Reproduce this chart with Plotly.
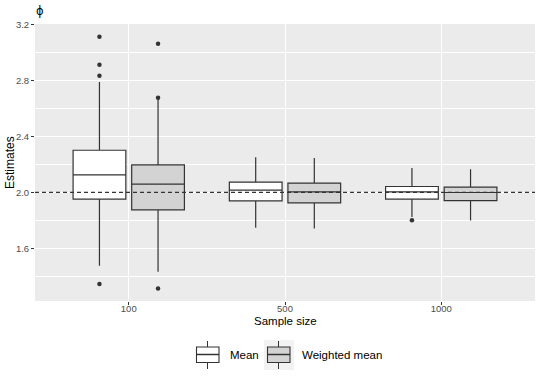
import plotly.graph_objects as go

sizes = ["100", "500", "1000"]

mean_lo = [1.475, 1.746, 1.823]
mean_q1 = [1.951, 1.939, 1.951]
mean_med = [2.125, 2.016, 2.004]
mean_q3 = [2.301, 2.073, 2.042]
mean_hi = [2.790, 2.251, 2.175]
mean_out_x = ["100", "100", "100", "100", "1000"]
mean_out_y = [3.113, 2.913, 2.834, 1.344, 1.801]

wmean_lo = [1.432, 1.741, 1.799]
wmean_q1 = [1.875, 1.925, 1.941]
wmean_med = [2.059, 2.004, 1.999]
wmean_q3 = [2.196, 2.066, 2.037]
wmean_hi = [2.672, 2.246, 2.166]
wmean_out_x = ["100", "100", "100"]
wmean_out_y = [3.063, 2.677, 1.313]

series_names = ["Mean", "Weighted mean"]
series_fills = ["#FFFFFF", "#D3D3D3"]

true_value = 2.0
y_ticks = [1.6, 2.0, 2.4, 2.8, 3.2]
y_tick_labels = ["1.6", "2.0", "2.4", "2.8", "3.2"]
y_minor = [1.4, 1.8, 2.2, 2.6, 3.0]

FONT = "Liberation Sans, Arial, sans-serif"
LINE = "#333333"
W, H = 540, 378
ML, MR, MT, MB = 35, 5, 24, 77
PW, PH = W - ML - MR, H - MT - MB


def px_x(px):
    return (px - ML) / PW


def px_y(py):
    return (H - MB - py) / PH


fig = go.Figure()
stats = [
    (mean_lo, mean_q1, mean_med, mean_q3, mean_hi),
    (wmean_lo, wmean_q1, wmean_med, wmean_q3, wmean_hi),
]
groups = ["m", "w"]
for name, grp, (lo, q1, med, q3, hi), fill in zip(series_names, groups, stats, series_fills):
    fig.add_trace(go.Box(
        name=name, x=sizes, lowerfence=lo, q1=q1, median=med, q3=q3, upperfence=hi,
        fillcolor=fill, line=dict(color=LINE, width=1.2), whiskerwidth=0,
        offsetgroup=grp, boxpoints=False, hoverinfo="y", showlegend=False,
    ))

for grp, ox, oy in [("m", mean_out_x, mean_out_y), ("w", wmean_out_x, wmean_out_y)]:
    fig.add_trace(go.Scatter(
        x=ox, y=oy, mode="markers", offsetgroup=grp, showlegend=False,
        marker=dict(color=LINE, size=4.5),
    ))

fig.add_hline(y=true_value, line=dict(color=LINE, width=1.1, dash="4px,3px"), layer="above")

# manual ggplot-style legend keys (layout decoration, paper coords)
shapes = []
annotations = []
key_lefts = [193, 264]
text_lefts = [228, 300]
for kl, tl, name, fill in zip(key_lefts, text_lefts, series_names, series_fills):
    cx = kl + 14.5
    shapes.append(dict(type="rect", xref="paper", yref="paper", x0=px_x(kl), x1=px_x(kl + 30),
                       y0=px_y(370), y1=px_y(340), fillcolor="#F2F2F2", line=dict(width=0), layer="above"))
    shapes.append(dict(type="line", xref="paper", yref="paper", x0=px_x(cx), x1=px_x(cx),
                       y0=px_y(341), y1=px_y(369), line=dict(color=LINE, width=1), layer="above"))
    shapes.append(dict(type="rect", xref="paper", yref="paper", x0=px_x(kl + 3.5), x1=px_x(kl + 26),
                       y0=px_y(362.5), y1=px_y(347), fillcolor=fill, line=dict(color=LINE, width=1.1),
                       layer="above"))
    shapes.append(dict(type="line", xref="paper", yref="paper", x0=px_x(kl + 3.5), x1=px_x(kl + 26),
                       y0=px_y(354.5), y1=px_y(354.5), line=dict(color=LINE, width=1.5), layer="above"))
    annotations.append(dict(text=name, xref="paper", yref="paper", x=px_x(tl), y=px_y(355),
                            xanchor="left", yanchor="middle", showarrow=False,
                            font=dict(size=11.5, color="black")))

annotations += [
    dict(text="ϕ", xref="paper", yref="paper", x=px_x(34), y=px_y(11), xanchor="left", yanchor="middle",
         showarrow=False, font=dict(size=11.5, color="black", family="DejaVu Sans")),
    dict(text="Estimates", xref="paper", yref="paper", x=px_x(9.5), y=0.5, xanchor="center",
         yanchor="middle", textangle=-90, showarrow=False,
         font=dict(size=12, color="black")),
    dict(text="Sample size", xref="paper", yref="paper", x=0.5, y=px_y(320.5), xanchor="center",
         yanchor="middle", showarrow=False, font=dict(size=11.5, color="black")),
]

fig.update_layout(
    width=W, height=H,
    margin=dict(l=ML, r=MR, t=MT, b=MB, autoexpand=False),
    paper_bgcolor="white", plot_bgcolor="#EBEBEB",
    boxmode="group", boxgap=0.25, boxgroupgap=0.1,
    scattermode="group", scattergap=0.25,
    font=dict(family=FONT, size=11, color="black"),
    showlegend=False,
    xaxis=dict(
        type="category", range=[-0.6, 2.6], showgrid=True, gridcolor="white", gridwidth=1.1,
        ticks="outside", ticklen=3, tickcolor=LINE, tickwidth=1, automargin=False,
        ticklabelstandoff=-4,
        tickfont=dict(size=9.5, color="#4D4D4D"), zeroline=False, showline=False,
    ),
    yaxis=dict(
        range=[1.223, 3.204], tickvals=y_ticks, ticktext=y_tick_labels, automargin=False,
        showgrid=True, gridcolor="white", gridwidth=1.1,
        minor=dict(tickvals=y_minor, showgrid=True, gridcolor="white", gridwidth=0.55, ticks=""),
        ticks="outside", ticklen=3, tickcolor=LINE, tickwidth=1,
        tickfont=dict(size=9.5, color="#4D4D4D"), zeroline=False, showline=False,
    ),
    shapes=shapes,
    annotations=annotations,
)

fig.write_html(
    "out.html",
    config={"displayModeBar": False},
    post_script="document.body.style.margin='0';document.body.style.padding='0';",
)
